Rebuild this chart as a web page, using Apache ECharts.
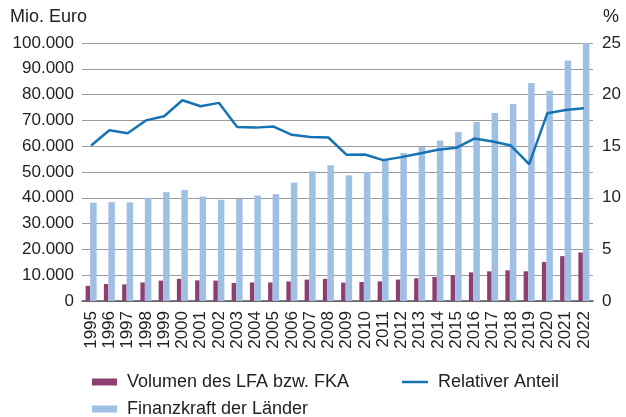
<!DOCTYPE html>
<html>
<head>
<meta charset="utf-8">
<script src="https://cdn.jsdelivr.net/npm/echarts@6/dist/echarts.min.js"></script>
<style>
  html, body { margin: 0; padding: 0; background: #fff; }
  #chart { width: 626px; height: 417px; }
</style>
</head>
<body>
<div id="chart"></div>
<script>
const years = [
  "1995", "1996", "1997", "1998", "1999", "2000", "2001", "2002", "2003", "2004",
  "2005", "2006", "2007", "2008", "2009", "2010", "2011", "2012", "2013", "2014",
  "2015", "2016", "2017", "2018", "2019", "2020", "2021", "2022",
];

// Mio. Euro
const volumen = [
  5900, 6600, 6450, 7200, 7900, 8600, 8000, 7900, 7000, 7200,
  7200, 7600, 8300, 8600, 7150, 7350, 7600, 8300, 8800, 9300,
  10000, 11100, 11500, 11900, 11500, 15100, 17400, 18800,
];

// Mio. Euro
const finanzkraft = [
  38100, 38300, 38200, 40000, 42200, 43000, 40500, 39200, 39600, 40900,
  41400, 45900, 50300, 52600, 48700, 49900, 54800, 57400, 59700, 62200,
  65500, 69400, 72900, 76400, 84500, 81500, 93200, 100000,
];

// %
const relativerAnteil = [
  15.06, 16.55, 16.26, 17.5, 17.9, 19.45, 18.87, 19.2, 16.87, 16.8,
  16.9, 16.1, 15.9, 15.84, 14.16, 14.2, 13.65, 13.94, 14.3, 14.65,
  14.84, 15.74, 15.45, 15.06, 13.26, 18.2, 18.5, 18.68,
];

const FONT = "Liberation Sans, Arial, Helvetica, sans-serif";
const TEXT = "#222";
const PURPLE = "#8e3f72";
const LIGHT_BLUE = "#9fc0e4";
const LINE_BLUE = "#1673b3";

const chart = echarts.init(document.getElementById("chart"));

const legendText = { fontFamily: FONT, fontSize: 18, color: TEXT, padding: [0, 0, 0, 5] };

chart.setOption({
  animation: false,
  textStyle: { fontFamily: FONT },
  graphic: [
    { type: "text", left: 10, top: 8, style: { text: "Mio. Euro", font: "18px " + FONT, fill: TEXT } },
    { type: "text", left: 603, top: 8, style: { text: "%", font: "18px " + FONT, fill: TEXT } },
  ],
  legend: [
    {
      data: ["Volumen des LFA bzw. FKA"],
      left: 92, top: 373, padding: 0,
      itemWidth: 25, itemHeight: 7, icon: "rect",
      textStyle: legendText,
      selectedMode: false,
    },
    {
      data: ["Relativer Anteil"],
      left: 402, top: 373, padding: 0,
      itemWidth: 26, itemHeight: 2.5, icon: "rect",
      textStyle: legendText,
      selectedMode: false,
    },
    {
      data: ["Finanzkraft der Länder"],
      left: 92, top: 400, padding: 0,
      itemWidth: 25, itemHeight: 7, icon: "rect",
      textStyle: legendText,
      selectedMode: false,
    },
  ],
  grid: { left: 82, right: 33, top: 43, bottom: 116 },
  xAxis: {
    type: "category",
    data: years,
    axisLine: { lineStyle: { color: "#555", width: 1.5 } },
    axisTick: { show: false },
    axisLabel: { rotate: 90, interval: 0, fontSize: 17, color: TEXT, margin: 10 },
  },
  yAxis: [
    {
      type: "value",
      min: 0, max: 100000, interval: 10000,
      axisLine: { show: false },
      axisTick: { show: false },
      splitLine: { lineStyle: { color: "#9a9a9a", width: 1 } },
      axisLabel: {
        fontSize: 17, color: TEXT, margin: 8,
        formatter: (v) => String(v).replace(/\B(?=(\d{3})+(?!\d))/g, "."),
      },
    },
    {
      type: "value",
      min: 0, max: 25, interval: 5,
      position: "right",
      axisLine: { show: false },
      axisTick: { show: false },
      splitLine: { show: false },
      axisLabel: { fontSize: 17, color: TEXT, margin: 9 },
    },
  ],
  series: [
    {
      name: "Volumen des LFA bzw. FKA",
      type: "bar",
      data: volumen,
      barWidth: 4.5,
      barGap: "0%",
      itemStyle: { color: PURPLE },
    },
    {
      name: "Finanzkraft der Länder",
      type: "bar",
      data: finanzkraft,
      barWidth: 6.5,
      itemStyle: { color: LIGHT_BLUE },
    },
    {
      name: "Relativer Anteil",
      type: "line",
      yAxisIndex: 1,
      data: relativerAnteil,
      showSymbol: false,
      lineStyle: { color: LINE_BLUE, width: 2.5 },
      itemStyle: { color: LINE_BLUE },
      z: 5,
    },
  ],
});
</script>
</body>
</html>
